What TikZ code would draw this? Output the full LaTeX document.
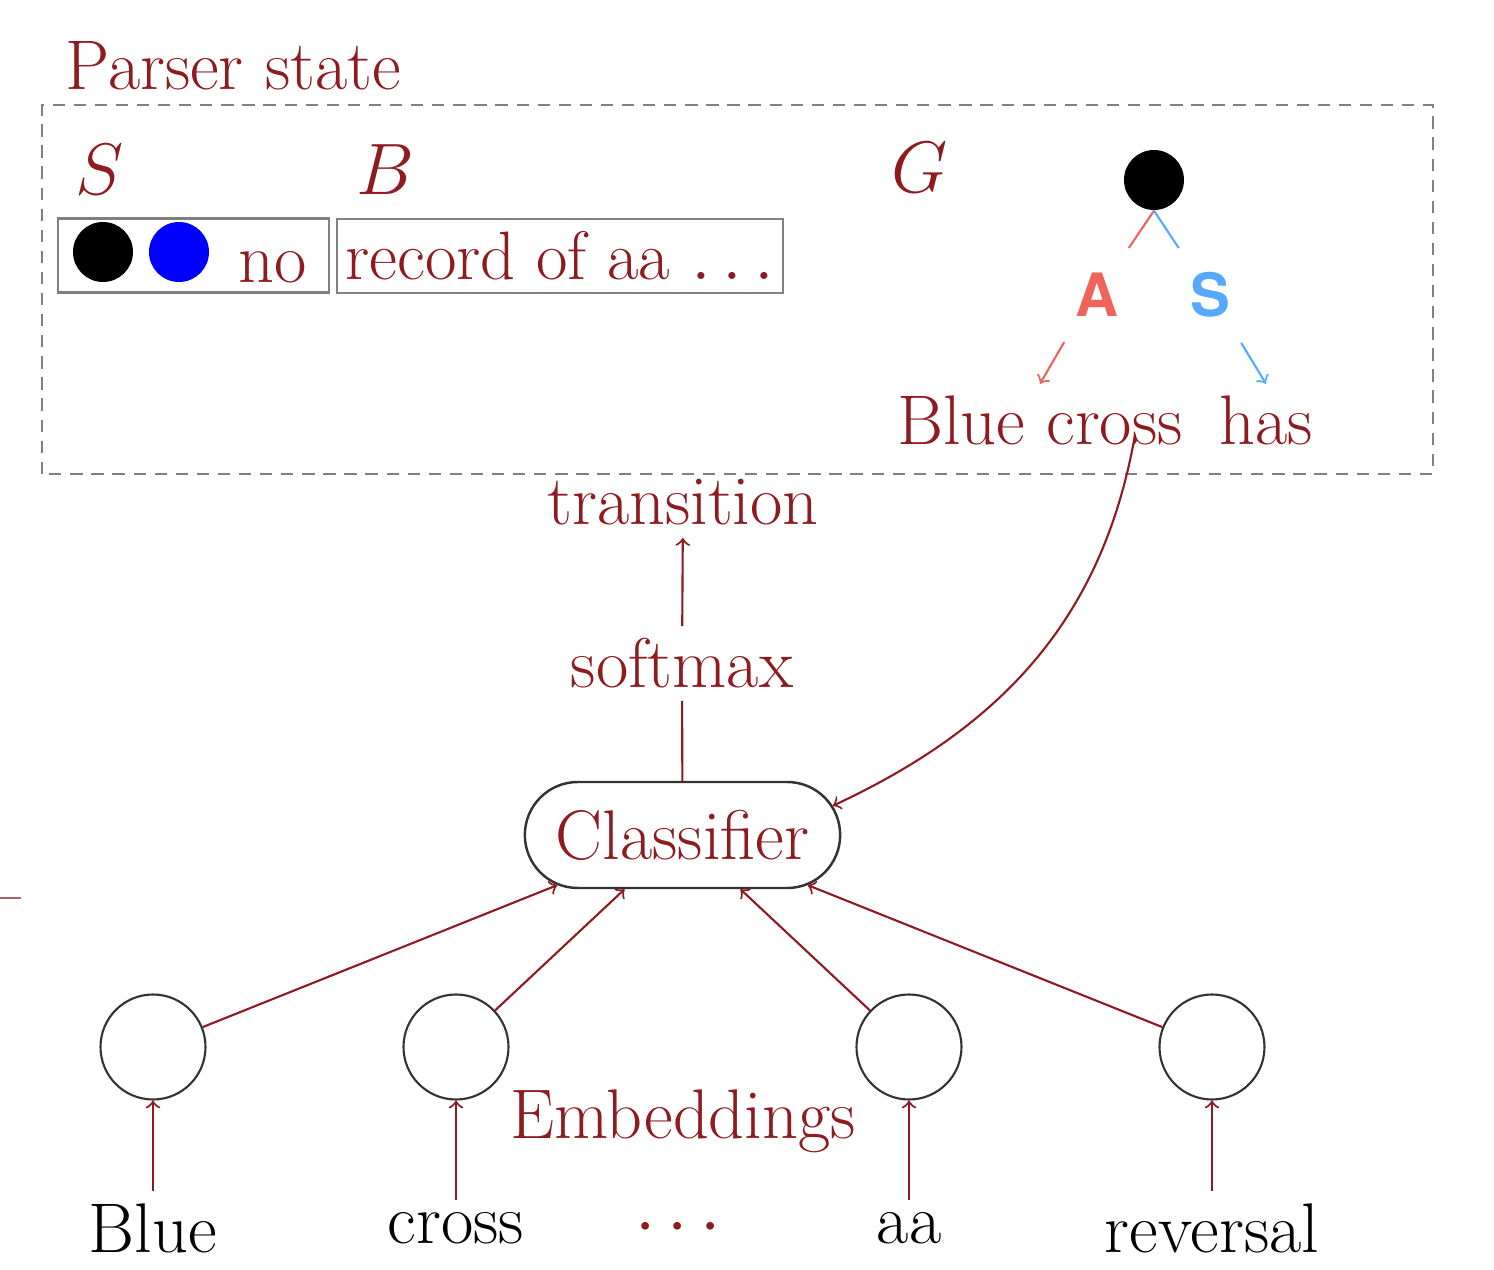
\documentclass[tikz,border=0pt]{standalone}
\usepackage{fontspec}
\newfontfamily\heros{TeX Gyre Heros}
\usetikzlibrary{shapes.misc,positioning}
\definecolor{darkred}{RGB}{142,27,31}
\definecolor{arcred}{RGB}{238,99,90}
\definecolor{arcblue}{RGB}{85,170,255}

\begin{document}
\begin{tikzpicture}[
  font=\fontsize{20}{24}\selectfont,
  lbl/.style={text=darkred},
  word/.style={text=black},
  box/.style={draw=gray,line width=0.6pt,minimum height=0.74cm},
  emb/.style={circle,draw=black!80,line width=0.6pt,minimum size=1.05cm},
  tok/.style={circle,fill=#1,minimum size=0.6cm,inner sep=0pt},
  relname/.style={text=#1,inner xsep=3pt,inner ysep=7pt,font=\fontsize{17}{20}\heros\bfseries},
  link/.style={darkred,line width=0.6pt},
  deparc/.style={#1,line width=0.6pt},
  >=to]
\useasboundingbox (0,0) rectangle (14.94,12.69);

% parser state
\draw[gray,line width=0.6pt,dash pattern=on 3.5pt off 2.5pt] (0.42,7.95) rectangle (14.33,11.64);
\node[lbl,anchor=base west,inner sep=0pt] (title) at (0.65,11.79) {Parser state};

\node[lbl,anchor=base,inner sep=0pt] (slbl) at (1.0,10.74) {$S$};
\node[lbl,anchor=base,inner sep=0pt] (blbl) at (3.85,10.74) {$B$};
\node[lbl,anchor=base,inner sep=0pt] (glbl) at (9.2,10.76) {$G$};

\node[box,minimum width=2.71cm] (stack) at (1.935,10.135) {};
\node[tok=black] (s1) at (1.03,10.17) {};
\node[tok=blue] (s2) at (1.79,10.17) {};
\node[lbl,anchor=base,inner sep=0pt] (no) at (2.73,9.86) {no};
\node[box,lbl,inner xsep=0pt,minimum width=4.46cm,font=\fontsize{19.5}{23}\selectfont] (buffer) at (5.60,10.13) {record of aa $\ldots$};

% graph
\node[tok=black] (root) at (11.54,10.89) {};
\node[relname=arcred] (A) at (10.97,9.74) {A};
\node[relname=arcblue] (S) at (12.10,9.74) {S};
\node[lbl,anchor=base] (bc) at (10.40,8.24) {Blue cross};
\node[lbl,anchor=base] (has) at (12.66,8.24) {has};
\coordinate (gout) at (11.35,8.34);

\draw[deparc=arcred] (root.south) -- (A);
\draw[deparc=arcblue] (root.south) -- (S);
\draw[deparc=arcred,->] (A.south west) -- (bc.north);
\draw[deparc=arcblue,->] (S.south east) -- (has.north);

% network
\node[lbl,anchor=base] (tr) at (6.83,7.44) {transition};
\node[lbl,anchor=base] (sm) at (6.82,5.81) {softmax};
\node[rounded rectangle,draw=black!80,line width=0.7pt,lbl,inner xsep=7pt,minimum height=1.06cm] (clf) at (6.825,4.34) {Classifier};

\draw[link,->] (sm) -- (tr);
\draw[link] (clf) -- (sm);
\draw[link,->] (gout) to[out=-100,in=25] (clf.11);

\node[emb] (e1) at (1.53,2.22) {};
\node[emb] (e2) at (4.56,2.22) {};
\node[emb] (e3) at (9.09,2.22) {};
\node[emb] (e4) at (12.12,2.22) {};
\node[lbl,anchor=base] (embl) at (6.83,1.31) {Embeddings};

\node[word] (w1) at (1.53,0.41) {Blue};
\node[word] (w2) at (4.56,0.41) {cross};
\node[lbl] (dots) at (6.78,0.41) {$\cdots$};
\node[word] (w3) at (9.09,0.41) {aa};
\node[word] (w4) at (12.12,0.41) {reversal};

\draw[link,->] (w1) -- (e1);
\draw[link,->] (w2) -- (e2);
\draw[link,->] (w3) -- (e3);
\draw[link,->] (w4) -- (e4);
\draw[link,->] (e1) -- (clf);
\draw[link,->] (e2) -- (clf);
\draw[link,->] (e3) -- (clf);
\draw[link,->] (e4) -- (clf);

\draw[darkred!70,line width=0.6pt] (0,3.71) -- (0.21,3.71);
\end{tikzpicture}
\end{document}
